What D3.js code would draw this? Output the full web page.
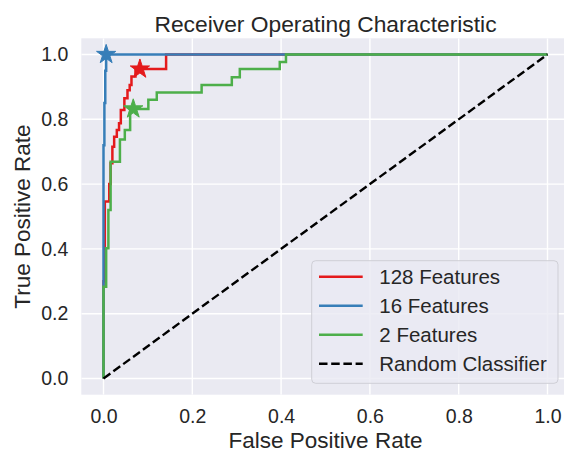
<!DOCTYPE html>
<html>
<head>
<meta charset="utf-8">
<script src="https://cdn.jsdelivr.net/npm/d3@7"></script>
<style>
  html, body { margin: 0; padding: 0; background: #fff; }
  svg { display: block; font-family: "Liberation Sans", Arial, sans-serif; }
</style>
</head>
<body>
<div id="chart"></div>
<script>
// ROC curves (staircase vertices)
var seriesNames = ['128 Features', '16 Features', '2 Features'];
var seriesColors = ['#e41a1c', '#377eb8', '#4daf4a'];

var fpr128 = [0, 0, 0.003, 0.003, 0.013, 0.013, 0.016, 0.016, 0.02, 0.02, 0.024, 0.024, 0.03, 0.03, 0.035, 0.035, 0.039, 0.039, 0.047, 0.047, 0.054, 0.054, 0.059, 0.059, 0.063, 0.063, 0.072, 0.072, 0.141, 0.141, 1.0];
var tpr128 = [0, 0.3, 0.3, 0.546, 0.546, 0.6, 0.6, 0.664, 0.664, 0.715, 0.715, 0.746, 0.746, 0.767, 0.767, 0.788, 0.788, 0.829, 0.829, 0.865, 0.865, 0.89, 0.89, 0.906, 0.906, 0.932, 0.932, 0.955, 0.955, 1.0, 1.0];

var fpr16 = [0, 0, 0.002, 0.002, 0.004, 0.004, 0.006, 0.006, 1.0];
var tpr16 = [0, 0.72, 0.72, 0.85, 0.85, 0.95, 0.95, 1.0, 1.0];

var fpr2 = [0, 0, 0.006, 0.006, 0.011, 0.011, 0.016, 0.016, 0.037, 0.037, 0.048, 0.048, 0.06, 0.06, 0.101, 0.101, 0.12, 0.12, 0.221, 0.221, 0.289, 0.289, 0.307, 0.307, 0.397, 0.397, 0.411, 0.411, 1.0];
var tpr2 = [0, 0.283, 0.283, 0.402, 0.402, 0.52, 0.52, 0.669, 0.669, 0.738, 0.738, 0.767, 0.767, 0.832, 0.832, 0.86, 0.86, 0.883, 0.883, 0.906, 0.906, 0.93, 0.93, 0.955, 0.955, 0.977, 0.977, 1.0, 1.0];

// chosen operating points (stars)
var starFpr = [0.082, 0.006, 0.067];
var starTpr = [0.955, 1.0, 0.832];

var randomFpr = [0, 1];
var randomTpr = [0, 1];

var tickValues = [0, 0.2, 0.4, 0.6, 0.8, 1.0];

var width = 564, height = 451;
var plot = { left: 81.3, right: 569.7, top: 38.3, bottom: 394.7 };
var textColor = '#262626';

var x = d3.scaleLinear().domain([-0.05, 1.05]).range([plot.left, plot.right]);
var y = d3.scaleLinear().domain([-0.05, 1.05]).range([plot.bottom, plot.top]);

var svg = d3.select('#chart').append('svg')
  .attr('width', width)
  .attr('height', height);

svg.append('defs').append('clipPath')
  .attr('id', 'clip')
  .append('rect')
    .attr('x', plot.left).attr('y', plot.top)
    .attr('width', plot.right - plot.left)
    .attr('height', plot.bottom - plot.top);

svg.append('rect')
  .attr('x', plot.left).attr('y', plot.top)
  .attr('width', plot.right - plot.left)
  .attr('height', plot.bottom - plot.top)
  .attr('fill', '#eaeaf2');

// grid
var grid = svg.append('g').attr('clip-path', 'url(#clip)');
grid.selectAll('line.gx').data(tickValues).join('line')
  .attr('class', 'gx')
  .attr('x1', function (d) { return x(d); }).attr('x2', function (d) { return x(d); })
  .attr('y1', plot.top).attr('y2', plot.bottom)
  .attr('stroke', '#fff').attr('stroke-width', 1.4);
grid.selectAll('line.gy').data(tickValues).join('line')
  .attr('class', 'gy')
  .attr('y1', function (d) { return y(d); }).attr('y2', function (d) { return y(d); })
  .attr('x1', plot.left).attr('x2', plot.right)
  .attr('stroke', '#fff').attr('stroke-width', 1.4);

// axes (labels only, no tick marks — seaborn darkgrid)
var xAxis = svg.append('g')
  .attr('transform', 'translate(0,' + plot.bottom + ')')
  .call(d3.axisBottom(x).tickValues(tickValues).tickFormat(d3.format('.1f')).tickSize(0).tickPadding(14.8));
var yAxis = svg.append('g')
  .attr('transform', 'translate(' + plot.left + ',0)')
  .call(d3.axisLeft(y).tickValues(tickValues).tickFormat(d3.format('.1f')).tickSize(0).tickPadding(13));
[xAxis, yAxis].forEach(function (a) {
  a.select('.domain').remove();
  a.selectAll('text')
    .attr('font-family', '"Liberation Sans", Arial, sans-serif')
    .attr('font-size', '19.5px')
    .attr('fill', textColor);
});

var line = d3.line()
  .x(function (d) { return x(d[0]); })
  .y(function (d) { return y(d[1]); });

var curves = [
  d3.zip(fpr128, tpr128),
  d3.zip(fpr16, tpr16),
  d3.zip(fpr2, tpr2)
];

var marks = svg.append('g').attr('clip-path', 'url(#clip)');
curves.forEach(function (pts, i) {
  marks.append('path')
    .attr('d', line(pts))
    .attr('fill', 'none')
    .attr('stroke', seriesColors[i])
    .attr('stroke-width', 2.5);
});

marks.append('path')
  .attr('d', line(d3.zip(randomFpr, randomTpr)))
  .attr('fill', 'none')
  .attr('stroke', '#000')
  .attr('stroke-width', 2.4)
  .attr('stroke-dasharray', '8.5,3.7');

var star = d3.symbol().type(d3.symbolStar).size(115);
starFpr.forEach(function (f, i) {
  marks.append('path')
    .attr('d', star())
    .attr('transform', 'translate(' + x(f) + ',' + y(starTpr[i]) + ')')
    .attr('fill', seriesColors[i])
    .attr('stroke', seriesColors[i])
    .attr('stroke-width', 1);
});

// title + axis labels
svg.append('text')
  .attr('x', (plot.left + plot.right) / 2)
  .attr('y', 31.5)
  .attr('text-anchor', 'middle')
  .attr('font-size', '22.8px')
  .attr('fill', textColor)
  .text('Receiver Operating Characteristic');

svg.append('text')
  .attr('x', (plot.left + plot.right) / 2)
  .attr('y', 447.5)
  .attr('text-anchor', 'middle')
  .attr('font-size', '22.5px')
  .attr('fill', textColor)
  .text('False Positive Rate');

svg.append('text')
  .attr('transform', 'translate(30,' + ((plot.top + plot.bottom) / 2) + ') rotate(-90)')
  .attr('text-anchor', 'middle')
  .attr('font-size', '22.5px')
  .attr('fill', textColor)
  .text('True Positive Rate');

// legend
var legend = svg.append('g');
legend.append('rect')
  .attr('x', 311.7).attr('y', 260.7)
  .attr('width', 246.3).attr('height', 122.6)
  .attr('rx', 4)
  .attr('fill', '#eaeaf2').attr('fill-opacity', 0.8)
  .attr('stroke', '#cfcfd6').attr('stroke-width', 1);

var legendNames = seriesNames.concat(['Random Classifier']);
var legendColors = seriesColors.concat(['#000']);
legendNames.forEach(function (name, i) {
  var cy = 276.7 + i * 29;
  legend.append('line')
    .attr('x1', 319).attr('x2', 362.7)
    .attr('y1', cy).attr('y2', cy)
    .attr('stroke', legendColors[i])
    .attr('stroke-width', 2.4)
    .attr('stroke-dasharray', i === 3 ? '8.5,3.7' : null);
  legend.append('text')
    .attr('x', 379.3).attr('y', cy)
    .attr('dy', '0.35em')
    .attr('font-size', '20.5px')
    .attr('fill', textColor)
    .text(name);
});
</script>
</body>
</html>
